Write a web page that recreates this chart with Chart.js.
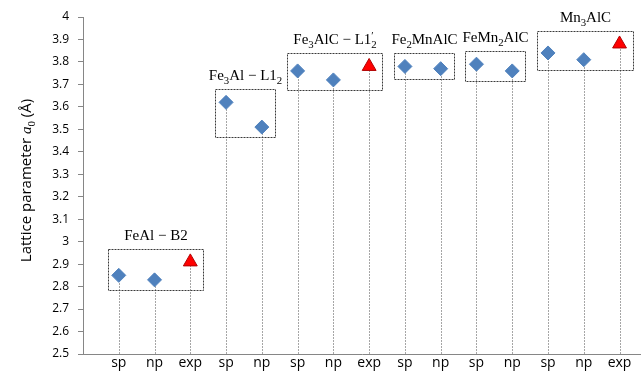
<!DOCTYPE html>
<html lang="en">
<head>
<meta charset="UTF-8" />
<title>Lattice parameter</title>
<script src="https://cdn.jsdelivr.net/npm/chart.js"></script>
<style>
    html, body { margin: 0; padding: 0; background: #fff; }
    #wrap { width: 641px; height: 372px; }
</style>
</head>
<body>
<div id="wrap"><canvas id="grafico" width="641" height="372"></canvas></div>
<script>
    // datos
    const xLabels = ['sp', 'np', 'exp', 'sp', 'np', 'sp', 'np', 'exp', 'sp', 'np', 'sp', 'np', 'sp', 'np', 'exp'];
    const latticeValues = [2.85, 2.83, 2.91, 3.62, 3.51, 3.76, 3.72, 3.78, 3.78, 3.77, 3.79, 3.76, 3.84, 3.81, 3.88];
    const groupNames = ['FeAl − B2', 'Fe_{3}Al − L1_{2}', 'Fe_{3}AlC − L1^{′}_{2}', 'Fe_{2}MnAlC', 'FeMn_{2}AlC', 'Mn_{3}AlC'];
    const groupSizes = [3, 2, 3, 2, 2, 3];
    const yMin = 2.5, yMax = 4, yStep = 0.1;
    const yTitle = 'Lattice parameter *a*_{0} (Å)';

    const calcPoints = [], expPoints = [];
    xLabels.forEach((l, i) => {
        const p = { x: i + 1, y: latticeValues[i] };
        if (l === 'exp') expPoints.push(p); else calcPoints.push(p);
    });

    // los marcadores grandes no deben recortar el área del gráfico por la derecha
    Chart.registry.getController('scatter').prototype.getMaxOverflow = function () { return 0; };

    // texto con subíndices / superíndices / cursiva
    function partes(str) {
        const out = [];
        const re = /_\{([^}]*)\}|\^\{([^}]*)\}|\*([^*]+)\*|([^_^*]+)/g;
        let m;
        while ((m = re.exec(str))) {
            if (m[1] !== undefined) out.push({ t: m[1], k: 'sub' });
            else if (m[2] !== undefined) out.push({ t: m[2], k: 'sup' });
            else if (m[3] !== undefined) out.push({ t: m[3], k: 'it' });
            else out.push({ t: m[4], k: 'n' });
        }
        return out;
    }

    function textoRico(ctx, str, x, y, size, family, mathFamily) {
        const ps = partes(str);
        const fontOf = p => {
            const small = p.k === 'sub' || p.k === 'sup';
            const fam = p.k === 'n' ? family : mathFamily;
            return (p.k === 'it' ? 'italic ' : '') + (small ? size * 0.72 : size).toFixed(1) + 'px ' + fam;
        };
        const w = ps.map(p => { ctx.font = fontOf(p); return ctx.measureText(p.t).width; });
        const run = (paint, x0) => {
            let cx = x0;
            for (let i = 0; i < ps.length; i++) {
                const p = ps[i];
                let dy = 0;
                if (p.k === 'sub') dy = size * 0.28;
                if (p.k === 'sup') dy = -size * 0.3;
                if (paint) { ctx.font = fontOf(p); ctx.fillText(p.t, cx, y + dy); }
                if (p.k === 'sup' && ps[i + 1] && ps[i + 1].k === 'sub') {
                    const q = ps[i + 1];
                    if (paint) { ctx.font = fontOf(q); ctx.fillText(q.t, cx, y + size * 0.28); }
                    cx += Math.max(w[i], w[i + 1]);
                    i++;
                } else {
                    cx += w[i];
                }
            }
            return cx - x0;
        };
        const total = run(false, x);
        run(true, x - total / 2);
    }

    const decoraciones = {
        id: 'decoraciones',
        beforeDatasetsDraw(chart) {
            const ctx = chart.ctx;
            const base = chart.scales.y.getPixelForValue(yMin);
            ctx.save();
            ctx.strokeStyle = '#a6a6a6';
            ctx.lineWidth = 1;
            ctx.setLineDash([2, 1]);
            chart.data.datasets.forEach((ds, d) => {
                chart.getDatasetMeta(d).data.forEach(pt => {
                    const x = Math.round(pt.x) + 0.5;
                    ctx.beginPath();
                    ctx.moveTo(x, base);
                    ctx.lineTo(x, pt.y);
                    ctx.stroke();
                });
            });
            ctx.restore();
        },
        afterDatasetsDraw(chart) {
            const ctx = chart.ctx;
            const xs = chart.scales.x, ys = chart.scales.y;
            ctx.save();
            let start = 0;
            groupSizes.forEach((n, g) => {
                const px = [], py = [];
                for (let i = start; i < start + n; i++) {
                    px.push(xs.getPixelForValue(i + 1));
                    py.push(ys.getPixelForValue(latticeValues[i]));
                }
                const left = Math.round(Math.min(...px) - 11) + 0.5;
                const right = Math.round(Math.max(...px) + 13) + 0.5;
                const top = Math.round(Math.min(...py) - 13) + 0.5;
                const bottom = Math.round(Math.max(...py) + 10) + 0.5;
                ctx.strokeStyle = '#3a3a3a';
                ctx.lineWidth = 1;
                ctx.setLineDash([2, 1]);
                ctx.strokeRect(left, top, right - left, bottom - top);

                ctx.fillStyle = '#000';
                ctx.textBaseline = 'alphabetic';
                ctx.textAlign = 'left';
                textoRico(ctx, groupNames[g], (left + right) / 2, top - 10, 15, 'Liberation Serif', 'Liberation Serif');
                start += n;
            });

            // título del eje y
            const a = chart.chartArea;
            ctx.translate(31, (a.top + a.bottom) / 2 - 5);
            ctx.rotate(-Math.PI / 2);
            ctx.fillStyle = '#000';
            textoRico(ctx, yTitle, 0, 0, 15, 'Open Sans', 'Liberation Serif');
            ctx.restore();
        }
    };

    new Chart(document.getElementById('grafico'), {
        type: 'scatter',
        data: {
            datasets: [
                {
                    label: 'calc',
                    data: calcPoints,
                    pointStyle: 'rectRot',
                    pointRadius: 7,
                    backgroundColor: '#4f81bd',
                    borderColor: '#4f81bd',
                    borderWidth: 1
                },
                {
                    label: 'exp',
                    data: expPoints,
                    pointStyle: 'triangle',
                    pointRadius: 8,
                    backgroundColor: '#ff0000',
                    borderColor: '#b00000',
                    borderWidth: 1
                }
            ]
        },
        options: {
            responsive: false,
            animation: false,
            layout: { padding: { top: 17, right: 0, left: 0, bottom: 0 } },
            plugins: { legend: { display: false }, tooltip: { enabled: false } },
            scales: {
                x: {
                    type: 'linear',
                    min: 0,
                    max: 15.6,
                    grid: { display: false, drawTicks: false },
                    border: { display: true, color: '#868686', width: 1 },
                    ticks: {
                        stepSize: 1,
                        includeBounds: false,
                        autoSkip: false,
                        maxRotation: 0,
                        padding: 1,
                        color: '#000',
                        font: { family: 'Open Sans', size: 14 },
                        callback: v => xLabels[v - 1] || ''
                    },
                    afterFit: s => { s.height = 18; }
                },
                y: {
                    min: yMin,
                    max: yMax,
                    grid: { display: true, drawOnChartArea: false, drawTicks: true, tickLength: 5, color: '#868686' },
                    border: { display: true, color: '#868686', width: 1 },
                    ticks: {
                        stepSize: yStep,
                        padding: 9,
                        color: '#000',
                        font: { family: 'Open Sans', size: 12 },
                        callback: v => String(+v.toFixed(1))
                    },
                    afterFit: s => { s.width = 83; }
                }
            }
        },
        plugins: [decoraciones]
    });
</script>
</body>
</html>
